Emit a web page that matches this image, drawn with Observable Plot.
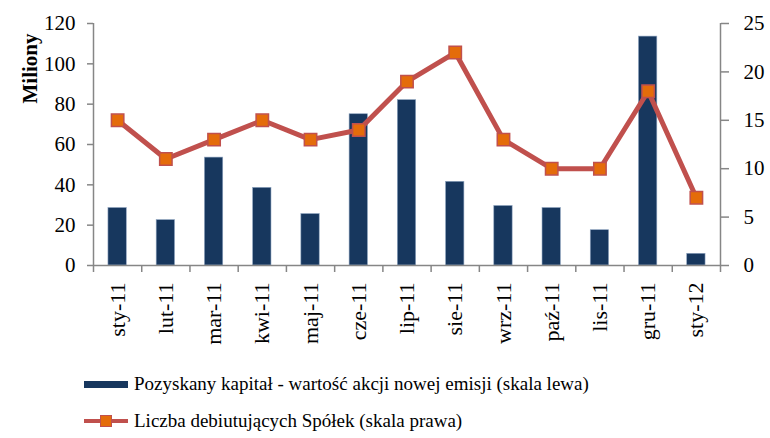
<!DOCTYPE html>
<html>
<head>
<meta charset="utf-8">
<script src="https://cdn.jsdelivr.net/npm/d3@7"></script>
<script src="https://cdn.jsdelivr.net/npm/@observablehq/plot@0.6"></script>
<style>
  body { margin: 0; background: #fff; font-family: "Liberation Serif", "DejaVu Serif", serif; }
  #legend { position: relative; height: 78px; width: 770px; font-size: 19px; color: #000; }
  .li { position: absolute; left: 84px; display: flex; align-items: center; white-space: nowrap; }
  .sw { width: 44px; height: 14px; position: relative; margin-right: 6px; }
</style>
</head>
<body>
<div id="chart"></div>
<div id="legend">
  <div class="li" style="top:13px"><div class="sw"><div style="position:absolute;left:0;top:4px;width:44px;height:7px;background:#17375e"></div></div><span>Pozyskany kapitał - wartość akcji nowej emisji (skala lewa)</span></div>
  <div class="li" style="top:50px"><div class="sw"><div style="position:absolute;left:0;top:5px;width:44px;height:4px;background:#c0504d"></div><div style="position:absolute;left:16px;top:1px;width:10px;height:10px;background:#e46c0a;border:1px solid #c0504d"></div></div><span>Liczba debiutujących Spółek (skala prawa)</span></div>
</div>
<script>
const months = ["sty-11","lut-11","mar-11","kwi-11","maj-11","cze-11","lip-11","sie-11","wrz-11","paź-11","lis-11","gru-11","sty-12"];
const capital = [28.5, 22.5, 53.5, 38.5, 25.5, 75, 82, 41.5, 29.5, 28.5, 17.5, 113.5, 5.8];
const debuts = [15, 11, 13, 15, 13, 14, 19, 22, 13, 10, 10, 18, 7];
const leftTicks = [0, 20, 40, 60, 80, 100, 120];
const rightTicks = [0, 5, 10, 15, 20, 25];

const ratio = 120 / 25;
const data = months.map((m, i) => ({m, i, cap: capital[i], deb: debuts[i], debScaled: debuts[i] * ratio}));
const boundaries = d3.range(0, months.length + 1).map(k => k - 0.5);
const halfBar = 0.19;
const axisColor = "#868686";

const chart = Plot.plot({
  width: 770,
  height: 360,
  marginLeft: 93,
  marginRight: 50,
  marginTop: 23,
  marginBottom: 95,
  style: {fontFamily: "Liberation Serif, DejaVu Serif, serif", fontSize: "20px", color: "#000", background: "#fff"},
  x: {domain: [-0.5, months.length - 0.5]},
  y: {domain: [0, 120]},
  marks: [
    Plot.rectY(data, {x1: d => d.i - halfBar, x2: d => d.i + halfBar, y: "cap", fill: "#17375e", stroke: "#8da3bf", strokeWidth: 0.6}),
    Plot.ruleY([0], {stroke: axisColor, strokeWidth: 1.5}),
    Plot.ruleX([-0.5], {y1: 0, y2: 120, stroke: axisColor, strokeWidth: 1.5}),
    Plot.ruleX([months.length - 0.5], {y1: 0, y2: 120, stroke: axisColor, strokeWidth: 1.5}),
    Plot.axisY({ticks: leftTicks, tickSize: 6, tickPadding: 12, stroke: axisColor, strokeWidth: 1.5, fontSize: 21, label: null, anchor: "left"}),
    Plot.axisY({ticks: rightTicks.map(t => t * ratio), tickFormat: d => Math.round(d / ratio), tickSize: 8, tickPadding: 15, stroke: axisColor, strokeWidth: 1.5, fontSize: 21, label: null, anchor: "right"}),
    Plot.axisX({ticks: boundaries, tickFormat: () => "", tickSize: 7, stroke: axisColor, strokeWidth: 1.5, label: null}),
    Plot.axisX({ticks: d3.range(months.length), tickFormat: i => months[i], tickSize: 0, tickPadding: 17, tickRotate: -90, fontSize: 22, label: null}),
    Plot.line(data, {x: "i", y: "debScaled", stroke: "#c0504d", strokeWidth: 5}),
    Plot.dot(data, {x: "i", y: "debScaled", symbol: "square", r: 7, fill: "#e46c0a", stroke: "#c0504d", strokeWidth: 1.5}),
    Plot.text(["Miliony"], {frameAnchor: "top-left", dx: -71, dy: 45, rotate: -90, textAnchor: "middle", fontWeight: "bold", fontSize: 21})
  ]
});
document.getElementById("chart").appendChild(chart);
</script>
</body>
</html>
